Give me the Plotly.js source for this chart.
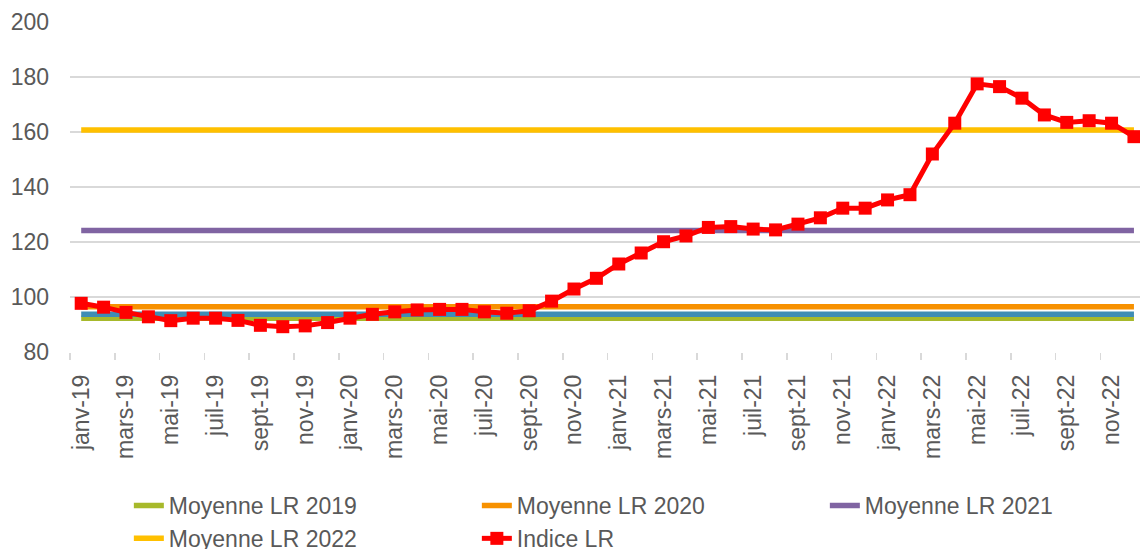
<!DOCTYPE html>
<html>
<head>
<meta charset="utf-8">
<script src="https://cdn.plot.ly/plotly-3.0.1.min.js"></script>
<style>html,body{margin:0;padding:0;overflow:hidden;background:#fff}#chart{width:1140px;height:549px}</style>
</head>
<body>
<div id="chart"></div>
<script>
const months = ["janv-19","févr-19","mars-19","avr-19","mai-19","juin-19","juil-19","août-19","sept-19","oct-19","nov-19","déc-19",
"janv-20","févr-20","mars-20","avr-20","mai-20","juin-20","juil-20","août-20","sept-20","oct-20","nov-20","déc-20",
"janv-21","févr-21","mars-21","avr-21","mai-21","juin-21","juil-21","août-21","sept-21","oct-21","nov-21","déc-21",
"janv-22","févr-22","mars-22","avr-22","mai-22","juin-22","juil-22","août-22","sept-22","oct-22","nov-22","déc-22"];
const indiceLR = [97.7,96.3,94.4,92.8,91.4,92.3,92.3,91.5,89.7,89.2,89.5,90.7,
92.3,93.7,94.6,95.3,95.5,95.5,94.6,94.1,95.0,98.5,102.9,106.8,
112.0,116.0,120.1,122.2,125.3,125.6,124.7,124.4,126.5,128.8,132.3,132.3,
135.3,137.2,152.0,163.2,177.5,176.5,172.3,166.2,163.5,164.1,163.2,158.3];
const moyenne2019 = 92.3;
const moyenne2020 = 96.5;
const moyenne2021 = 124.2;
const moyenne2022 = 160.7;
const autreMoyenne = 93.7;

const idx = months.map((m,i)=>i);
const labelIdx = idx.filter(i=>i%2===0);
const labelText = labelIdx.map(i=>months[i]);
const flat = v => months.map(()=>v);

const avgLine = (name, v, color, show) => ({
  x: idx, y: flat(v), name: name, type: 'scatter', mode: 'lines',
  line: {color: color, width: 5.5}, showlegend: show, hoverinfo: 'skip'
});

const traces = [
  avgLine('Moyenne LR 2019', moyenne2019, '#A7B92B', true),
  avgLine('Moyenne LR 2020', moyenne2020, '#F79100', true),
  avgLine('Moyenne LR 2021', moyenne2021, '#8064A2', true),
  avgLine('Moyenne LR 2022', moyenne2022, '#FFC000', true),
  avgLine('autre', autreMoyenne, '#3F8DB5', false),
  {x: idx, y: indiceLR, name: 'Indice LR', type: 'scatter', mode: 'lines+markers',
   line: {color: '#FF0000', width: 5}, marker: {symbol: 'square', size: 13, color: '#FF0000'}}
];
const data = [traces[0], traces[4], traces[1], traces[2], traces[3], traces[5]];

const layout = {
  width: 1140, height: 549,
  margin: {l: 70, r: 0, t: 22, b: 197, autoexpand: false},
  paper_bgcolor: '#fff', plot_bgcolor: '#fff',
  font: {family: 'Liberation Sans, Arial, sans-serif', size: 23, color: '#595959'},
  showlegend: true,
  xaxis: {
    range: [-0.5, 47.27], showgrid: false, zeroline: false,
    tickmode: 'array', tickvals: labelIdx, ticktext: labelText, tickangle: -90,
    ticks: '', ticklabelstandoff: 17, automargin: false,
    showline: false,
    minor: {tick0: -0.5, dtick: 2, ticks: 'outside', ticklen: 7, tickwidth: 1.5, tickcolor: '#D9D9D9', showgrid: false},
    tickfont: {size: 23, color: '#595959'}
  },
  yaxis: {
    range: [80, 200], dtick: 20, tick0: 80, showgrid: true, gridcolor: '#D9D9D9', gridwidth: 1.5,
    zeroline: false, showline: false, ticks: '', ticklabelstandoff: 20, automargin: false,
    tickfont: {size: 23, color: '#595959'}
  },
  legend: {
    orientation: 'h', x: 0.055, xanchor: 'left', y: -0.4, yanchor: 'top',
    entrywidth: 303, entrywidthmode: 'pixels', itemwidth: 30,
    font: {size: 23, color: '#595959'}, tracegroupgap: 0, bgcolor: 'rgba(0,0,0,0)'
  }
};
Plotly.newPlot('chart', data, layout, {displayModeBar: false, staticPlot: true});
</script>
</body>
</html>
